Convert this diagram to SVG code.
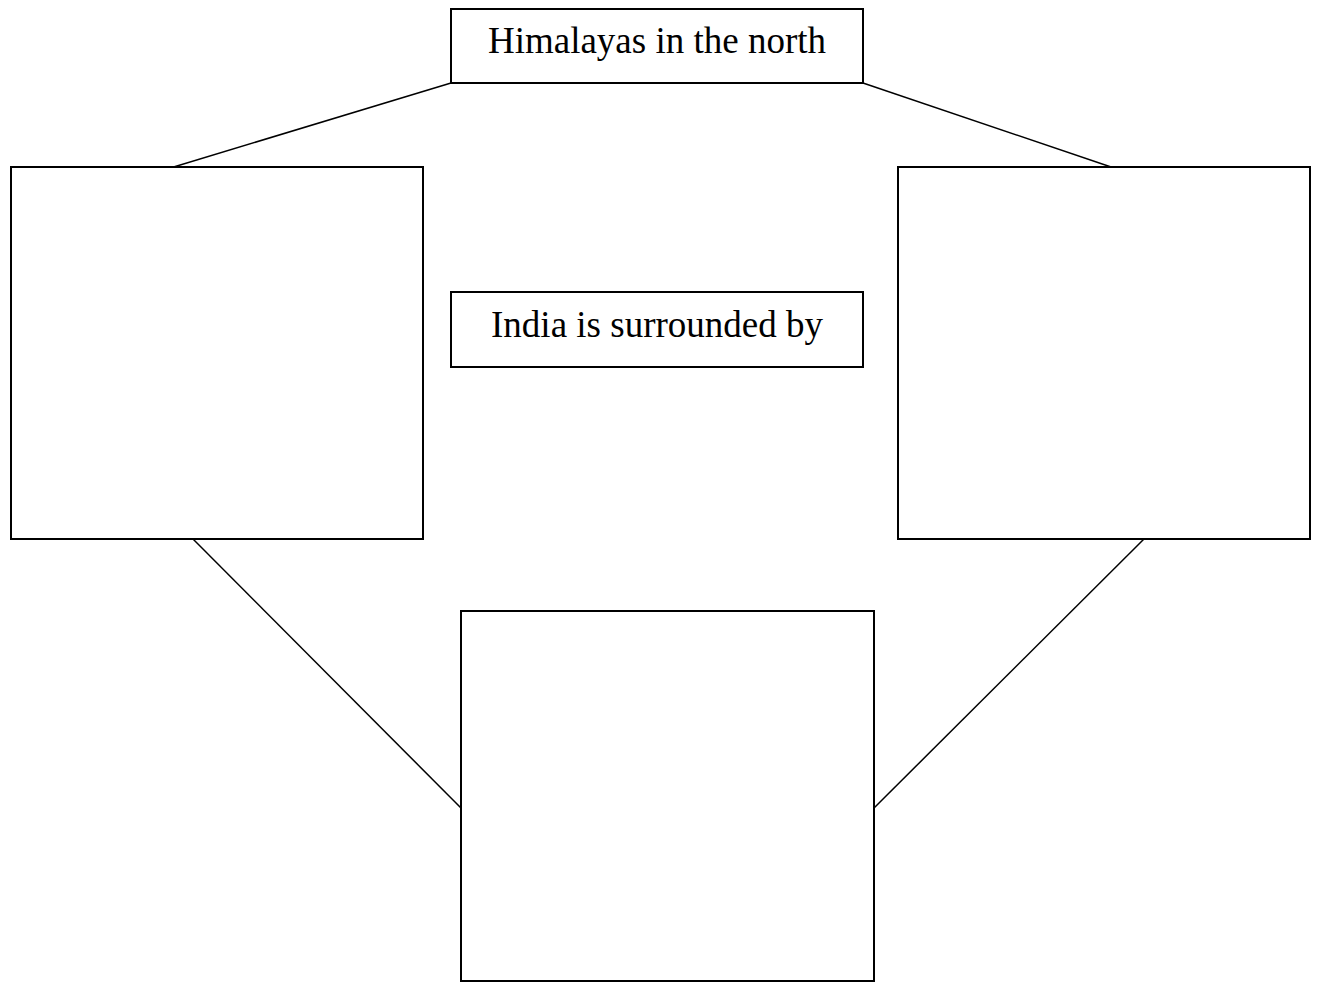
<svg xmlns="http://www.w3.org/2000/svg" width="1317" height="982" viewBox="0 0 1317 982">
<style>
.box{fill:#fff;stroke:#000;stroke-width:2}
.line{stroke:#000;stroke-width:1.5;fill:none}
.lbl{font-family:"Liberation Serif","Times New Roman",serif;font-size:37px;fill:#000;text-anchor:middle}
</style>
<rect width="1317" height="982" fill="#fff"/>
<g id="connectors">
<line class="line" x1="451" y1="83" x2="167" y2="169"/>
<line class="line" x1="863" y1="83" x2="1117" y2="169"/>
<line class="line" x1="193" y1="539" x2="461" y2="808"/>
<line class="line" x1="1144" y1="539" x2="874" y2="808"/>
</g>
<g id="top">
<rect class="box" x="451" y="9" width="412" height="74"/>
<text class="lbl" x="657" y="53">Himalayas in the north</text>
</g>
<g id="center">
<rect class="box" x="451" y="292" width="412" height="75"/>
<text class="lbl" x="657" y="337">India is surrounded by</text>
</g>
<g id="left">
<rect class="box" x="11" y="167" width="412" height="372"/>
</g>
<g id="right">
<rect class="box" x="898" y="167" width="412" height="372"/>
</g>
<g id="bottom">
<rect class="box" x="461" y="611" width="413" height="370"/>
</g>
</svg>
